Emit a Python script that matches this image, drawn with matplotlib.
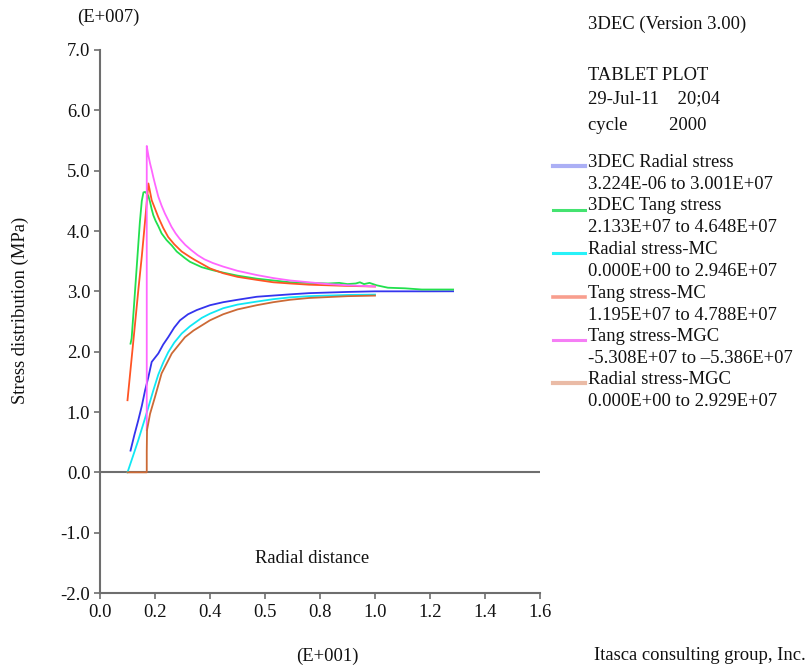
import matplotlib
matplotlib.use("Agg")
import matplotlib.pyplot as plt
from matplotlib.lines import Line2D

plt.rcParams["font.family"] = ["Liberation Serif", "DejaVu Serif"]

# Radial distance (E+001) and stress (E+007) for each series
r_3dec_radial = [0.111, 0.125, 0.139, 0.152, 0.164, 0.176, 0.188, 0.200, 0.212, 0.230,
                 0.248, 0.270, 0.291, 0.320, 0.352, 0.400, 0.448, 0.500, 0.570, 0.630,
                 0.691, 0.760, 0.830, 0.900, 1.000, 1.100, 1.200, 1.284]
s_3dec_radial = [0.36, 0.62, 0.86, 1.10, 1.36, 1.58, 1.83, 1.90, 1.97, 2.12,
                 2.24, 2.40, 2.52, 2.62, 2.69, 2.77, 2.82, 2.86, 2.91, 2.93,
                 2.95, 2.97, 2.98, 2.99, 3.00, 3.00, 3.00, 3.001]

r_3dec_tang = [0.111, 0.115, 0.125, 0.135, 0.145, 0.152, 0.158, 0.164, 0.170, 0.176,
               0.182, 0.188, 0.194, 0.202, 0.212, 0.224, 0.242, 0.261, 0.279, 0.309,
               0.327, 0.370, 0.410, 0.448, 0.500, 0.570, 0.630, 0.691, 0.760, 0.830,
               0.870, 0.900, 0.930, 0.945, 0.960, 0.980, 1.006, 1.047, 1.109, 1.170, 1.284]
s_3dec_tang = [2.133, 2.22, 2.85, 3.50, 4.15, 4.50, 4.64, 4.648, 4.62, 4.58,
               4.48, 4.36, 4.26, 4.17, 4.08, 3.96, 3.85, 3.76, 3.66, 3.55,
               3.49, 3.40, 3.35, 3.31, 3.26, 3.21, 3.18, 3.15, 3.14, 3.13,
               3.14, 3.12, 3.13, 3.15, 3.12, 3.14, 3.10, 3.06, 3.05, 3.03, 3.03]

r_mc_radial = [0.100, 0.120, 0.139, 0.160, 0.176, 0.194, 0.212, 0.230, 0.248, 0.270,
               0.297, 0.327, 0.370, 0.400, 0.448, 0.500, 0.570, 0.630, 0.691, 0.760,
               0.830, 0.900, 1.000]
s_mc_radial = [0.00, 0.27, 0.53, 0.84, 1.08, 1.36, 1.62, 1.82, 1.99, 2.15,
               2.30, 2.42, 2.56, 2.63, 2.72, 2.78, 2.83, 2.87, 2.90, 2.92,
               2.93, 2.94, 2.946]

r_mc_tang = [0.100, 0.125, 0.140, 0.152, 0.165, 0.176, 0.188, 0.200, 0.212, 0.230,
             0.248, 0.270, 0.297, 0.327, 0.345, 0.400, 0.448, 0.500, 0.570, 0.630,
             0.691, 0.760, 0.830, 0.900, 1.000]
s_mc_tang = [1.195, 2.35, 3.05, 3.58, 4.22, 4.788, 4.51, 4.37, 4.23, 4.05,
             3.90, 3.78, 3.66, 3.57, 3.52, 3.38, 3.30, 3.24, 3.19, 3.15,
             3.13, 3.11, 3.10, 3.09, 3.08]

r_mgc_tang = [0.170, 0.170, 0.176, 0.182, 0.188, 0.194, 0.200, 0.212, 0.224, 0.236,
              0.248, 0.260, 0.275, 0.290, 0.310, 0.330, 0.355, 0.380, 0.410, 0.448,
              0.500, 0.570, 0.630, 0.691, 0.760, 0.830, 0.900, 1.000]
s_mgc_tang = [0.70, 5.41, 5.25, 5.12, 5.01, 4.89, 4.78, 4.57, 4.42, 4.29,
              4.18, 4.07, 3.96, 3.87, 3.77, 3.69, 3.60, 3.53, 3.47, 3.41,
              3.34, 3.27, 3.22, 3.18, 3.15, 3.12, 3.10, 3.08]

r_mgc_radial = [0.100, 0.170, 0.170, 0.171, 0.182, 0.200, 0.224, 0.261, 0.309, 0.340,
                0.400, 0.448, 0.500, 0.570, 0.630, 0.691, 0.760, 0.830, 0.900, 1.000]
s_mgc_radial = [0.00, 0.00, 0.34, 0.70, 0.97, 1.25, 1.64, 1.97, 2.24, 2.35,
                2.52, 2.62, 2.70, 2.77, 2.82, 2.86, 2.89, 2.905, 2.92, 2.929]

series_names = ["3DEC Radial stress", "3DEC Tang stress", "Radial stress-MC",
                "Tang stress-MC", "Tang stress-MGC", "Radial stress-MGC"]
series_ranges = ["3.224E-06 to 3.001E+07", "2.133E+07 to 4.648E+07",
                 "0.000E+00 to 2.946E+07", "1.195E+07 to 4.788E+07",
                 "-5.308E+07 to \u20135.386E+07", "0.000E+00 to 2.929E+07"]

x_ticks = [0.0, 0.2, 0.4, 0.6, 0.8, 1.0, 1.2, 1.4, 1.6]
x_tick_labels = ["0.0", "0.2", "0.4", "0.5", "0.8", "1.0", "1.2", "1.4", "1.6"]
y_ticks = [-2.0, -1.0, 0.0, 1.0, 2.0, 3.0, 4.0, 5.0, 6.0, 7.0]
y_tick_labels = ["-2.0", "-1.0", "0.0", "1.0", "2.0", "3.0", "4.0", "5.0", "6.0", "7.0"]

line_colors = ["#3434ee", "#22e04e", "#10e8f4", "#ff5424", "#ff66ff", "#cc6a36"]
key_colors = ["#a2a6f4", "#30e060", "#10f0f8", "#f89482", "#f470f4", "#e8b49c"]
key_widths = [3.0, 2.2, 2.2, 2.6, 2.2, 3.0]

W, H = 807, 669
FS = 13.4
fig = plt.figure(figsize=(W / 100, H / 100), dpi=100)
ax = fig.add_axes([100 / W, 1 - 593 / H, 440 / W, 543 / H])

axis_gray = "#6e6e6e"
ax.axhline(0.0, color=axis_gray, lw=1.5, zorder=1)

data = [(r_3dec_radial, s_3dec_radial), (r_3dec_tang, s_3dec_tang),
        (r_mc_radial, s_mc_radial), (r_mc_tang, s_mc_tang),
        (r_mgc_tang, s_mgc_tang), (r_mgc_radial, s_mgc_radial)]
draw_order = [5, 2, 0, 3, 1, 4]
for i in draw_order:
    xs, ys = data[i]
    ax.plot(xs, ys, color=line_colors[i], lw=1.3, zorder=2 + i * 0.1)

ax.set_xlim(0.0, 1.6)
ax.set_ylim(-2.0, 7.0)
ax.set_xticks(x_ticks)
ax.set_xticklabels(x_tick_labels)
ax.set_yticks(y_ticks)
ax.set_yticklabels(y_tick_labels)
for side in ("top", "right"):
    ax.spines[side].set_visible(False)
for side in ("left", "bottom"):
    ax.spines[side].set_color(axis_gray)
    ax.spines[side].set_linewidth(1.5)
ax.tick_params(axis="both", direction="out", length=4, width=1.2,
               color=axis_gray, labelsize=FS, labelcolor="#111111")
ax.tick_params(axis="y", pad=3)
ax.tick_params(axis="x", pad=4)

ax.text(0.77, -1.43, "Radial distance", fontsize=FS, ha="center", va="center",
        color="#111111")

def px(x, y):
    return x / W, 1 - y / H

txt = dict(fontsize=FS, color="#111111", va="center")
fig.text(*px(108, 17), "(E+007)", ha="center", **txt)
fig.text(*px(327, 656), "(E+001)", ha="center", **txt)
fig.text(*px(20, 310), "Stress distribution (MPa)", ha="center", rotation=90, **txt)
fig.text(*px(806, 655), "Itasca consulting group, Inc.", ha="right", **txt)

fig.text(*px(588, 24), "3DEC (Version 3.00)", ha="left", **txt)
fig.text(*px(588, 75), "TABLET PLOT", ha="left", **txt)
fig.text(*px(588, 99), "29-Jul-11    20;04", ha="left", **txt)
fig.text(*px(588, 125), "cycle         2000", ha="left", **txt)

for k, (name, rng) in enumerate(zip(series_names, series_ranges)):
    y0 = 162.5 + 43.5 * k
    ly = y0 + 3.5
    fig.add_artist(Line2D([553 / W, 585 / W], [1 - ly / H, 1 - ly / H],
                          color=key_colors[k], lw=key_widths[k], alpha=0.9))
    fig.text(*px(588, y0), name, ha="left", **txt)
    fig.text(*px(588, y0 + 22), rng, ha="left", **txt)

fig.savefig("out.png", dpi=100, facecolor="white")
